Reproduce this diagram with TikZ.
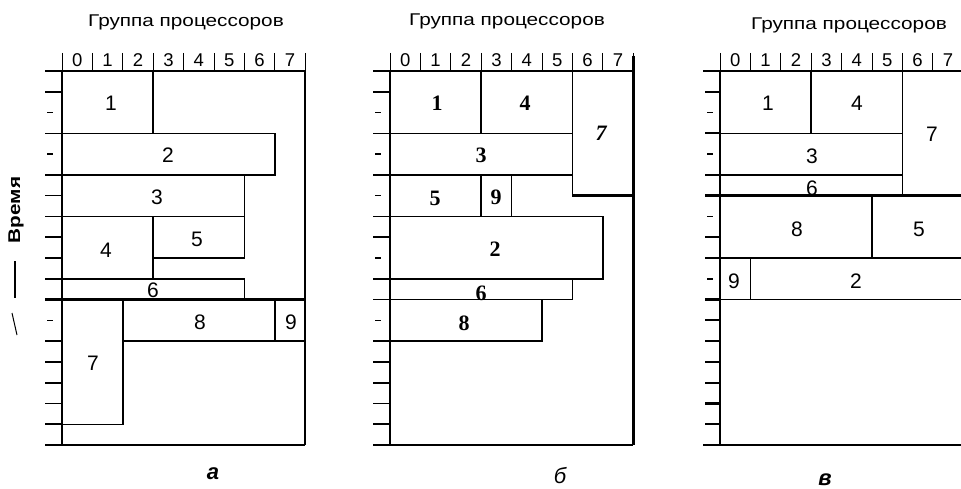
\documentclass[tikz,border=0pt]{standalone}
\usepackage{fontspec}
\usepackage{graphicx}
\setmainfont{Liberation Sans}
\newfontfamily\numserif{Liberation Serif}
\newcommand\widen[1]{\scalebox{1.22}[1]{#1}}
\begin{document}
\begin{tikzpicture}[x=1pt,y=-1pt,
  frame/.style={line width=1.6pt},
  blk/.style={line width=1.5pt},
  thickline/.style={line width=2.6pt},
  tickmark/.style={line width=1.6pt},
  sep/.style={line width=0.9pt},
  ttl/.style={inner sep=0pt,font=\fontsize{17}{17}\selectfont},
  col/.style={inner sep=0pt,font=\fontsize{18.5}{18.5}\selectfont},
  lab/.style={inner sep=0pt,font=\fontsize{21}{21}\selectfont},
  labb/.style={inner sep=0pt,font=\numserif\bfseries\fontsize{22}{22}\selectfont},
  captext/.style={inner sep=0pt,font=\bfseries\itshape\fontsize{22}{22}\selectfont}]
\useasboundingbox (0,0) rectangle (961,489);
\def\w{30.4}\def\h{20.78}\def\ty{71}\def\by{445}
% ---------- generic frames, headers and ticks ----------
\foreach \xo/\tl in {62/0,390/1,720/2}{
  \draw[frame] ({\xo-17},\ty) -- ({\xo+8*\w},\ty);
  \draw[frame] (\xo,\ty) -- (\xo,\by);
  \draw[frame] ({\xo-17},\by) -- ({\xo+8*\w},\by);
  \draw[frame] ({\xo+8*\w},\ty) -- ({\xo+8*\w},\by);
  \foreach \c in {0,...,8}{\draw[sep] ({\xo+\c*\w},53) -- ({\xo+\c*\w},\ty);}
  \foreach \c in {0,...,7}{\node[col] (c\tl-\c) at ({\xo+(\c+0.5)*\w},60) {\c};}
}
% titles
\node[ttl] (ta) at (186,22) {\widen{Группа процессоров}};
\node[ttl] (tb) at (507,21) {\widen{Группа процессоров}};
\node[ttl] (tc) at (849,25) {\widen{Группа процессоров}};
% ticks panel a
\foreach \k in {1,3,5,6,7,8,9,10,11,13,14,15,16,17}{\draw[tickmark] (45,{\ty+\k*\h}) -- (62,{\ty+\k*\h});}
\foreach \k in {2,4,12}{\draw[tickmark] (47,{\ty+\k*\h}) -- (53,{\ty+\k*\h});}
% ticks panel b
\foreach \k in {1,3,5,7,8,10,11,13,14,15,16,17}{\draw[tickmark] (373,{\ty+\k*\h}) -- (390,{\ty+\k*\h});}
\foreach \k in {2,4,6,9,12}{\draw[tickmark] (375,{\ty+\k*\h}) -- (381,{\ty+\k*\h});}
% ticks panel c
\foreach \k in {1,3,5,6,8,9,11,12,13,14,15,16,17}{\draw[tickmark,line width=2.2pt] (705,{\ty+\k*\h}) -- (720,{\ty+\k*\h});}
\foreach \k in {2,4,7,10}{\draw[tickmark] (707,{\ty+\k*\h}) -- (713,{\ty+\k*\h});}
% ---------- panel a ----------
\def\xo{62}
\foreach \a/\b/\c/\d in {0/0/3/3,0/3/7/5,0/5/6/7,0/7/3/10,3/7/6/9,0/10/6/11,0/11/2/17,2/11/7/13,7/11/8/13}{
  \draw[blk] ({\xo+\a*\w},{\ty+\b*\h}) rectangle ({\xo+\c*\w},{\ty+\d*\h});}
\draw[thickline] (45,{\ty+11*\h}) -- ({\xo+8*\w},{\ty+11*\h});
\draw[thickline] ({\xo+2*\w},{\ty+13*\h}) -- ({\xo+8*\w},{\ty+13*\h});
\node[lab] (a1) at (111,103) {1};
\node[lab] (a2) at (168,155) {2};
\node[lab] (a3) at (157,197) {3};
\node[lab] (a4) at (106,250) {4};
\node[lab] (a5) at (197,239) {5};
\node[lab] (a6) at (153,290) {6};
\node[lab] (a7) at (93,363) {7};
\node[lab] (a8) at (200,322) {8};
\node[lab] (a9) at (291,322) {9};
\node[captext] (ca) at (213,474) {а};
% time axis label
\node[inner sep=0pt,rotate=90,font=\bfseries\fontsize{17}{17}\selectfont] (time) at (16,210) {\widen{Время}};
\coordinate (ar1) at (15,261);
\coordinate (ar2) at (15,298);
\coordinate (ar3) at (12,313);
\coordinate (ar4) at (17,335);
\draw[line width=2.6pt] (ar1) -- (ar2);
\draw[line width=1pt] (ar3) -- (ar4);
% ---------- panel b ----------
\def\xo{390}
\foreach \a/\b/\c/\d in {0/0/3/3,3/0/6/3,6/0/8/6,0/3/6/5,0/5/3/7,3/5/4/7,0/7/7/10,0/10/6/11,0/11/5/13}{
  \draw[blk] ({\xo+\a*\w},{\ty+\b*\h}) rectangle ({\xo+\c*\w},{\ty+\d*\h});}
\draw[thickline] ({\xo+8*\w},56) -- ({\xo+8*\w},\by);
\draw[thickline] ({\xo+6*\w},{\ty+6*\h}) -- ({\xo+8*\w},{\ty+6*\h});
\node[labb] (b1) at (437,103) {1};
\node[labb] (b4) at (525,103) {4};
\node[labb,font=\numserif\bfseries\itshape\fontsize{22}{22}\selectfont] (b7) at (601,133) {7};
\node[labb] (b3) at (481,155) {3};
\node[labb] (b5) at (435,198) {5};
\node[labb] (b9) at (496,197) {9};
\node[labb] (b2) at (495,249) {2};
\node[labb] (b6) at (481,293) {6};
\node[labb] (b8) at (464,323) {8};
\node[captext,font=\itshape\fontsize{22}{22}\selectfont] (cb) at (560,476) {б};
% ---------- panel c ----------
\def\xo{720}
\foreach \a/\b/\c/\d in {0/0/3/3,3/0/6/3,6/0/8/6,0/3/6/5,0/5/6/6,0/6/5/9,5/6/8/9,0/9/1/11,1/9/8/11}{
  \draw[blk] ({\xo+\a*\w},{\ty+\b*\h}) rectangle ({\xo+\c*\w},{\ty+\d*\h});}
\draw[thickline] (705,{\ty+6*\h}) -- (961,{\ty+6*\h});
\node[lab] (e1) at (768,103) {1};
\node[lab] (e4) at (857,103) {4};
\node[lab] (e7) at (932,134) {7};
\node[lab] (e3) at (812,156) {3};
\node[lab] (e6) at (812,188) {6};
\node[lab] (e8) at (797,229) {8};
\node[lab] (e5) at (919,229) {5};
\node[lab] (e9) at (734,281) {9};
\node[lab] (e2) at (856,281) {2};
\node[captext] (cc) at (825,480) {в};
\end{tikzpicture}
\end{document}
